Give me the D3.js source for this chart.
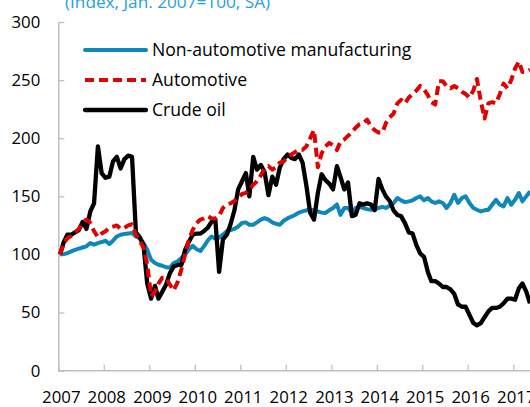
<!DOCTYPE html>
<html>
<head>
<meta charset="utf-8">
<script src="https://cdn.jsdelivr.net/npm/d3@7"></script>
<style>
  html, body { margin: 0; padding: 0; background: #fff; }
  svg { display: block; }
  text { font-family: "Open Sans", "DejaVu Sans", sans-serif; }
</style>
</head>
<body>
<svg id="chart" width="530" height="407"></svg>
<script>
// ---- data (monthly, from Jan 2007) ----
const startYear = 2007;
const yearTicks = [2007, 2008, 2009, 2010, 2011, 2012, 2013, 2014, 2015, 2016, 2017];
const yTicks = [0, 50, 100, 150, 200, 250, 300];
const titleText = "(Index, Jan. 2007=100, SA)";
const seriesNames = ["Non-automotive manufacturing", "Automotive", "Crude oil"];

const nonAuto = [
  100, 100.3, 101.2, 102.6, 104, 105, 106, 107, 109.8, 108.4,
  109.8, 110.7, 111.8, 109, 111.8, 115.5, 117, 117.6, 118, 118.4,
  115.5, 114, 109.8, 104, 95.4, 92.6, 91.1, 90.3, 89, 88.5,
  92.6, 94, 97, 100, 104.5, 107.5, 104.5, 103, 107, 112,
  115.5, 113.5, 114.5, 117, 120, 121, 122, 124, 127, 127.6,
  125.6, 125.6, 127.6, 130, 131.3, 130, 127.6, 126.4, 125.6, 129,
  131, 132.5, 134, 136, 137, 138, 138.5, 138, 137, 136,
  135.7, 138, 140, 143, 134, 140, 140, 136, 140, 141,
  140, 139, 138.5, 139, 140, 141, 140, 142, 144, 148.6,
  146.5, 145, 145.7, 146.6, 148.6, 150, 146.6, 148.6, 145.7, 144.3,
  145.7, 144.3, 140, 144.3, 151.4, 144.3, 148.6, 150, 144.3, 140,
  138.5, 137, 138, 138.5, 142.8, 147, 142.8, 141.4, 148.6, 142.8,
  147, 152.9, 145.7, 150, 154.3
];
const automotive = [
  100, 110, 114, 116, 119, 122, 127, 130, 127, 120,
  115, 118, 120, 123, 124, 125, 122, 123, 125, 126,
  117, 112, 106, 92, 64, 68, 75, 80, 80, 74,
  69, 76, 87, 100, 113, 121, 127, 130, 131, 133,
  131, 131, 133, 140, 143, 144, 146, 149, 152, 153,
  156, 160, 163, 168, 174, 176, 173, 175, 179, 180,
  184, 186, 188, 190, 190, 193, 200, 207, 175, 187,
  193, 196, 194, 190, 197, 199, 202, 205, 209, 212,
  213, 216, 210, 207, 205, 205, 213, 218, 221, 230,
  233, 230, 235, 238, 241, 245, 242, 237, 231, 229,
  249, 249, 245, 243, 245, 243, 240, 238, 235, 241,
  251, 232, 217, 230, 231, 230, 238, 247, 243, 250,
  260, 266, 257, 257, 259
];
const crudeOil = [
  100, 111, 117, 117, 119, 121, 128, 122, 137, 144,
  193, 170, 166, 167, 180, 184, 174, 182, 185, 184,
  119, 115, 108, 75, 62, 73, 62, 68, 74, 84,
  89.6, 91, 91, 104, 111, 117, 118, 118, 120, 123,
  128, 130, 85, 113, 117, 126, 138, 156, 163, 170,
  150, 184, 173, 177, 171, 151, 167, 160, 175, 182,
  186, 183, 182, 186, 179, 159, 136, 130, 153, 169,
  164, 161, 156, 176, 167, 156, 162, 133, 134, 144,
  143, 144, 143, 138, 165, 156, 150, 146, 138, 134,
  133, 127, 119, 118, 108, 101, 98, 85, 77, 77,
  75, 72, 72, 70, 66, 57, 55, 55, 48, 41,
  39, 41, 46, 51, 54, 54, 55, 58, 62, 62,
  61, 71, 75, 68, 58
];

// ---- styles ----
const colBlue = "#0f87b8";
const colRed = "#e00000";
const colBlack = "#000000";
const colAxis = "#bfbfbf";
const colTitle = "#2a9fd8";

const svg = d3.select("#chart");
const W = 530, H = 407;

const x = d3.scaleTime()
  .domain([new Date(2007, 0, 1), new Date(2017, 0, 1)])
  .range([58.3, 513.3]);
const y = d3.scaleLinear().domain([0, 300]).range([370.7, 22]);

const dateOf = i => new Date(startYear, i, 15);

// title (partially cut at top as in reference)
svg.append("text")
  .attr("x", 65).attr("y", 8)
  .attr("fill", colTitle)
  .attr("font-size", 17.2)
  .text(titleText);

// y axis
const yAxis = svg.append("g")
  .attr("transform", "translate(58.3,0)")
  .call(d3.axisLeft(y).tickValues(yTicks).tickSizeInner(-6).tickSizeOuter(0).tickPadding(18));
// x axis
const xAxis = svg.append("g")
  .attr("transform", "translate(0,370.7)")
  .call(d3.axisBottom(x).tickValues(yearTicks.map(yr => new Date(yr, 0, 1)))
    .tickFormat(d3.timeFormat("%Y")).tickSizeInner(-6).tickSizeOuter(0).tickPadding(20));

[yAxis, xAxis].forEach(g => {
  g.select(".domain").attr("stroke", colAxis).attr("stroke-width", 1.5);
  g.selectAll(".tick line").attr("stroke", colAxis).attr("stroke-width", 1.3);
  g.selectAll(".tick text").attr("fill", "#000").attr("font-size", 16.8)
    .attr("font-family", "'Open Sans', 'DejaVu Sans', sans-serif");
});
xAxis.selectAll(".tick text").attr("dx", 2.5);
// extend x axis line to the right edge
xAxis.select(".domain").attr("d", `M58.3,0H${W}`);

const line = d3.line()
  .x((d, i) => x(dateOf(i)))
  .y(d => y(d))
  .curve(d3.curveLinear);

const plot = svg.append("g");
plot.append("path").datum(nonAuto)
  .attr("d", line).attr("fill", "none").attr("stroke", colBlue)
  .attr("stroke-width", 4).attr("stroke-linejoin", "round");
plot.append("path").datum(crudeOil)
  .attr("d", line).attr("fill", "none").attr("stroke", colBlack)
  .attr("stroke-width", 4.3).attr("stroke-linejoin", "round");
plot.append("path").datum(automotive)
  .attr("d", line).attr("fill", "none").attr("stroke", colRed)
  .attr("stroke-width", 4).attr("stroke-dasharray", "9,5")
  .attr("stroke-linejoin", "round");

// legend
const legend = [
  { name: seriesNames[0], color: colBlue, dash: null, w: 4 },
  { name: seriesNames[1], color: colRed, dash: "9,5", w: 4 },
  { name: seriesNames[2], color: colBlack, dash: null, w: 4.3 }
];
const lg = svg.append("g");
legend.forEach((d, i) => {
  const yy = 50 + i * 30;
  lg.append("line")
    .attr("x1", 85).attr("x2", 146).attr("y1", yy).attr("y2", yy)
    .attr("stroke", d.color).attr("stroke-width", d.w)
    .attr("stroke-linecap", d.dash ? "butt" : "round")
    .attr("stroke-dasharray", d.dash);
  lg.append("text")
    .attr("x", 152).attr("y", yy).attr("dy", "0.36em")
    .attr("font-size", 17.6).attr("fill", "#000")
    .text(d.name);
});
</script>
</body>
</html>
